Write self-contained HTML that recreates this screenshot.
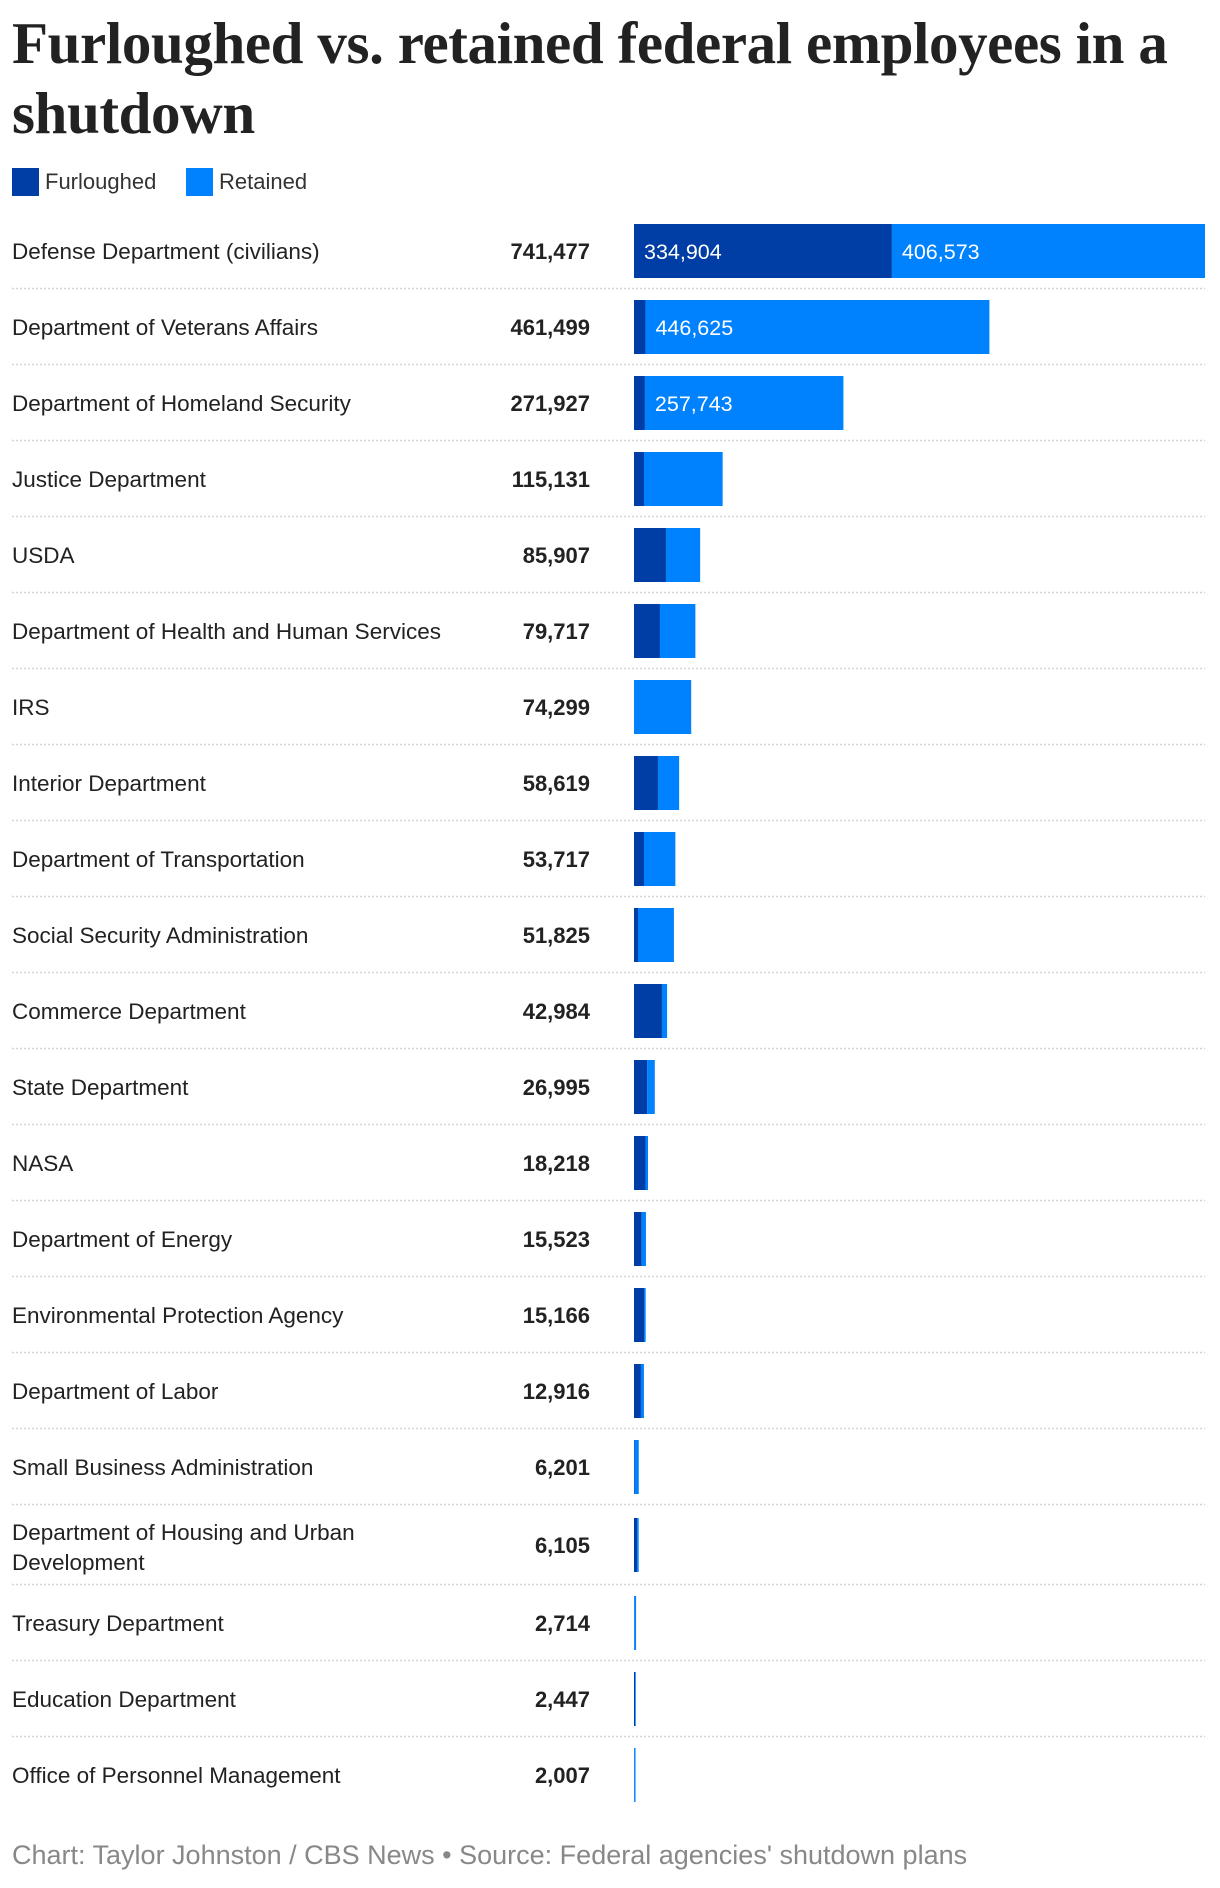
<!DOCTYPE html>
<html><head><meta charset="utf-8">
<style>
body{margin:0;background:#fff;width:1220px;height:1888px;overflow:hidden;font-family:"Liberation Sans",sans-serif;color:#222;position:relative}
#title{position:absolute;left:12px;top:8px;font-family:"Liberation Serif",serif;font-weight:bold;font-size:59px;line-height:70px;letter-spacing:-0.4px;color:#222;white-space:nowrap;margin:0}
.leg{position:absolute;top:168px;height:28px;display:flex;align-items:center;font-size:22px;color:#333}
.sw{width:27px;height:28px;margin-right:6px}
#chart{position:absolute;left:0;top:0}
#foot{position:absolute;left:12px;top:1840px;font-size:27px;color:#888}
</style></head><body>
<h1 id="title">Furloughed vs. retained federal employees in a<br>shutdown</h1>
<div class="leg" style="left:12px"><div class="sw" style="background:#003DA5"></div>Furloughed</div>
<div class="leg" style="left:186px"><div class="sw" style="background:#0082FF"></div>Retained</div>
<svg id="chart" width="1220" height="1888"></svg>
<div id="foot">Chart: Taylor Johnston / CBS News • Source: Federal agencies' shutdown plans</div>
<script>
const categories=["Defense Department (civilians)","Department of Veterans Affairs","Department of Homeland Security","Justice Department","USDA","Department of Health and Human Services","IRS","Interior Department","Department of Transportation","Social Security Administration","Commerce Department","State Department","NASA","Department of Energy","Environmental Protection Agency","Department of Labor","Small Business Administration","Department of Housing and Urban|Development","Treasury Department","Education Department","Office of Personnel Management"];
const totals=[741477,461499,271927,115131,85907,79717,74299,58619,53717,51825,42984,26995,18218,15523,15166,12916,6201,6105,2714,2447,2007];
const furloughed=[334904,14874,14184,13000,41500,33700,0,31100,13000,5200,36300,17000,15000,10000,13000,9000,800,4000,300,1500,200];
const NS="http://www.w3.org/2000/svg";
const svg=document.getElementById('chart');
const x0=634,xMax=1205,maxV=741477;
function xs(v){return v/maxV*(xMax-x0);}
function mk(t,a){const e=document.createElementNS(NS,t);for(const k in a)e.setAttribute(k,a[k]);svg.appendChild(e);return e;}
let rowTop=213;
categories.forEach((c,i)=>{
  const lines=c.split('|');
  const h=lines.length>1?80:76;
  const cy=rowTop+h/2;
  const lab=mk('text',{x:12,y:cy+8,'font-size':22.5,fill:'#222'});
  
  
  if(lines.length>1){lines.forEach((l,j)=>{const ts=document.createElementNS(NS,'tspan');ts.setAttribute('x',12);ts.setAttribute('y',cy-5+j*30);ts.textContent=l;lab.appendChild(ts);});}
  else lab.textContent=c;
  const tot=mk('text',{x:590,y:cy+8,'font-size':22,'font-weight':'bold','text-anchor':'end',fill:'#222'});
  tot.textContent=totals[i].toLocaleString('en-US');
  
  
  const f=furloughed[i],r=totals[i]-f;
  const wf=xs(f),wr=xs(r);
  const by=cy-27;
  const b1=mk('rect',{x:x0,y:by,width:wf,height:54,fill:'#003DA5'});
  
  
  const b2=mk('rect',{x:x0+wf,y:by,width:wr,height:54,fill:'#0082FF'});
  
  
  if(wf>120){const t=mk('text',{x:x0+10,y:cy+8,'font-size':21.5,fill:'#fff'});t.textContent=f.toLocaleString('en-US');
    
    }
  if(wr>120){const t=mk('text',{x:x0+wf+10,y:cy+8,'font-size':21.5,fill:'#fff'});t.textContent=r.toLocaleString('en-US');
    
    }
  rowTop+=h;
  if(i<categories.length-1){const s=mk('line',{x1:12,x2:1205,y1:rowTop-0.5,y2:rowTop-0.5,stroke:'#d4d4d4','stroke-width':1.5,'stroke-dasharray':'2 2'});
    
    }
});
</script>
</body></html>
